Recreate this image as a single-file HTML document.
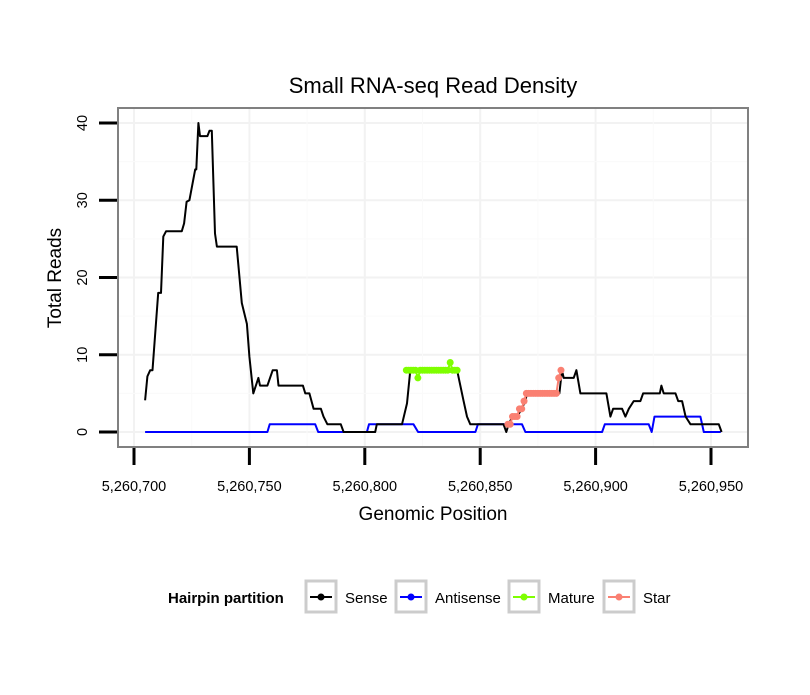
<!DOCTYPE html>
<html><head><meta charset="utf-8"><style>
body{margin:0;background:#fff;}
text{font-family:"Liberation Sans",sans-serif;}
</style></head><body>
<svg width="810" height="690" xmlns="http://www.w3.org/2000/svg">
<g id="root"></g>
</svg>
<script>
const xTicks=[5260700,5260750,5260800,5260850,5260900,5260950];
const xTickLabels=["5,260,700","5,260,750","5,260,800","5,260,850","5,260,900","5,260,950"];
const yTicks=[0,10,20,30,40];
const base=5260700;
const senseX=[4.8,5.8,7,8,10.5,11.7,12.7,13.9,20.7,21.7,22.8,24,26.5,27,27.9,28.6,31.8,32.7,33.7,35.1,35.9,44.5,46.7,48.9,50,51.7,53.9,54.6,57.8,60.1,61.9,62.6,73.2,74.2,76,77.8,81,82.1,83.8,89.6,90.8,104.5,105.2,116.1,118.3,119.7,140,142.8,144.3,145.7,160.1,161.3,162.3,164,166,168,169.5,170.3,184.3,185.4,186.2,190.5,191.7,193.4,204.7,206.4,207.6,211.5,212.9,214.4,216.5,219.4,220.6,227.8,228.5,229.5,234.6,235.8,237.5,239,241.1,253.4,254.6];
const senseY=[4.1,7.2,8,8,18,18,25.3,26,26,27,29.8,30,34,34,40,38.3,38.3,39,39,25.7,24,24,16.7,14,9.75,5,7,6,6,8,8,6,6,5,5,3,3,2,1,1,0,0,1,1,3.7,8,8,4,2,1,1,0,1,2,2,3,4,5,5,8,7,7,8,5,5,2,3,3,2,3,4,4,5,5,6,5,5,4,4,2,1,1,0];
const antiX=[4.8,57.8,58.8,78.5,79.8,100.9,101.8,121.1,123.1,147.9,149,168.1,169.6,202.8,204,223,224.3,225.5,245.4,246.9,254.2];
const antiY=[0,0,1,1,0,0,1,1,0,0,1,1,0,0,1,1,0,2,2,0,0];
const matureX=[118,119,120,121,122,123,124,125,126,127,128,129,130,131,132,133,134,135,136,137,138,139,140];
const matureY=[8,8,8,8,8,7,8,8,8,8,8,8,8,8,8,8,8,8,8,9,8,8,8];
const starX=[162,163,164,165,166,167,168,169,170,171,172,173,174,175,176,177,178,179,180,181,182,183,184,185];
const starY=[1,1,2,2,2,3,3,4,5,5,5,5,5,5,5,5,5,5,5,5,5,5,7,8];

const NS="http://www.w3.org/2000/svg";
const root=document.getElementById('root');
const X0=118,X1=748,Y0=108,Y1=447;
const xs=v=>134+(v-base)*(711-134)/250;
const ys=v=>432-v*(432-123)/40;
function mk(tag,attrs,parent){const e=document.createElementNS(NS,tag);for(const k in attrs)e.setAttribute(k,attrs[k]);(parent||root).appendChild(e);return e;}

const panel=mk('rect',{x:X0,y:Y0,width:X1-X0,height:Y1-Y0,fill:'#fff'});


const grid=mk('g',{});


xTicks.forEach(t=>mk('line',{x1:xs(t),x2:xs(t),y1:Y0,y2:Y1,stroke:'#f2f2f2','stroke-width':2},grid));
for(let i=0;i<yTicks.length;i++){mk('line',{x1:X0,x2:X1,y1:ys(yTicks[i]),y2:ys(yTicks[i]),stroke:'#f2f2f2','stroke-width':2},grid);}
[25,75,125,175,225].forEach(t=>mk('line',{x1:xs(base+t),x2:xs(base+t),y1:Y0,y2:Y1,stroke:'#fafafa','stroke-width':1},grid));
[5,15,25,35].forEach(t=>mk('line',{x1:X0,x2:X1,y1:ys(t),y2:ys(t),stroke:'#fafafa','stroke-width':1},grid));

function line(xa,ya,color,name){
  const p=xa.map((x,i)=>xs(base+x).toFixed(1)+','+ys(ya[i]).toFixed(1)).join(' ');
  const l=mk('polyline',{points:p,fill:'none',stroke:color,'stroke-width':2,'stroke-linejoin':'round'});
  
  
}
line(antiX,antiY,'#0000ff','antisense-line');
line(senseX,senseY,'#000000','sense-line');
function pts(xa,ya,color,name){
  const g=mk('g',{});
  
  
  line(xa,ya,color,name+'-line');
  xa.forEach((x,i)=>{const c=mk('circle',{cx:xs(base+x),cy:ys(ya[i]),r:3.5,fill:color},g);
    
    });
}
pts(matureX,matureY,'#7fff00','mature-series');
pts(starX,starY,'#fa8072','star-series');

const border=mk('rect',{x:X0,y:Y0,width:X1-X0,height:Y1-Y0,fill:'none',stroke:'#808080','stroke-width':2});



const xa=mk('g',{});


xTicks.forEach((t,i)=>{
  mk('line',{x1:xs(t),x2:xs(t),y1:448,y2:465,stroke:'#000','stroke-width':3},xa);
  const tx=mk('text',{x:xs(t),y:491,'text-anchor':'middle','font-size':14.5},xa);tx.textContent=xTickLabels[i];
});
const ya=mk('g',{});


yTicks.forEach(t=>{
  mk('line',{x1:99,x2:117,y1:ys(t),y2:ys(t),stroke:'#000','stroke-width':3},ya);
  const tx=mk('text',{x:0,y:0,'text-anchor':'middle','font-size':14.5,transform:`translate(87,${ys(t)}) rotate(-90)`},ya);tx.textContent=t;
});
const title=mk('text',{x:433,y:93,'text-anchor':'middle','font-size':22});title.textContent='Small RNA-seq Read Density';


const xt=mk('text',{x:433,y:520,'text-anchor':'middle','font-size':19});xt.textContent='Genomic Position';


const yt=mk('text',{x:0,y:0,'text-anchor':'middle','font-size':19,transform:'translate(61,278) rotate(-90)'});yt.textContent='Total Reads';



const lg=mk('g',{});


const lt=mk('text',{x:168,y:603,'font-size':15,'font-weight':'bold'},lg);lt.textContent='Hairpin partition';
const legNames=['Sense','Antisense','Mature','Star'];
const legColors=['#000000','#0000ff','#7fff00','#fa8072'];
const boxX=[306,396,509,604];
legNames.forEach((n,i)=>{
  const e=mk('g',{},lg);
  
  
  mk('rect',{x:boxX[i],y:581,width:30,height:31,fill:'#fff',stroke:'#cccccc','stroke-width':3},e);
  mk('line',{x1:boxX[i]+4,x2:boxX[i]+26,y1:597,y2:597,stroke:legColors[i],'stroke-width':2},e);
  mk('circle',{cx:boxX[i]+15,cy:597,r:3.5,fill:legColors[i]},e);
  const t=mk('text',{x:boxX[i]+39,y:603,'font-size':15},e);t.textContent=n;
});
</script>
</body></html>
